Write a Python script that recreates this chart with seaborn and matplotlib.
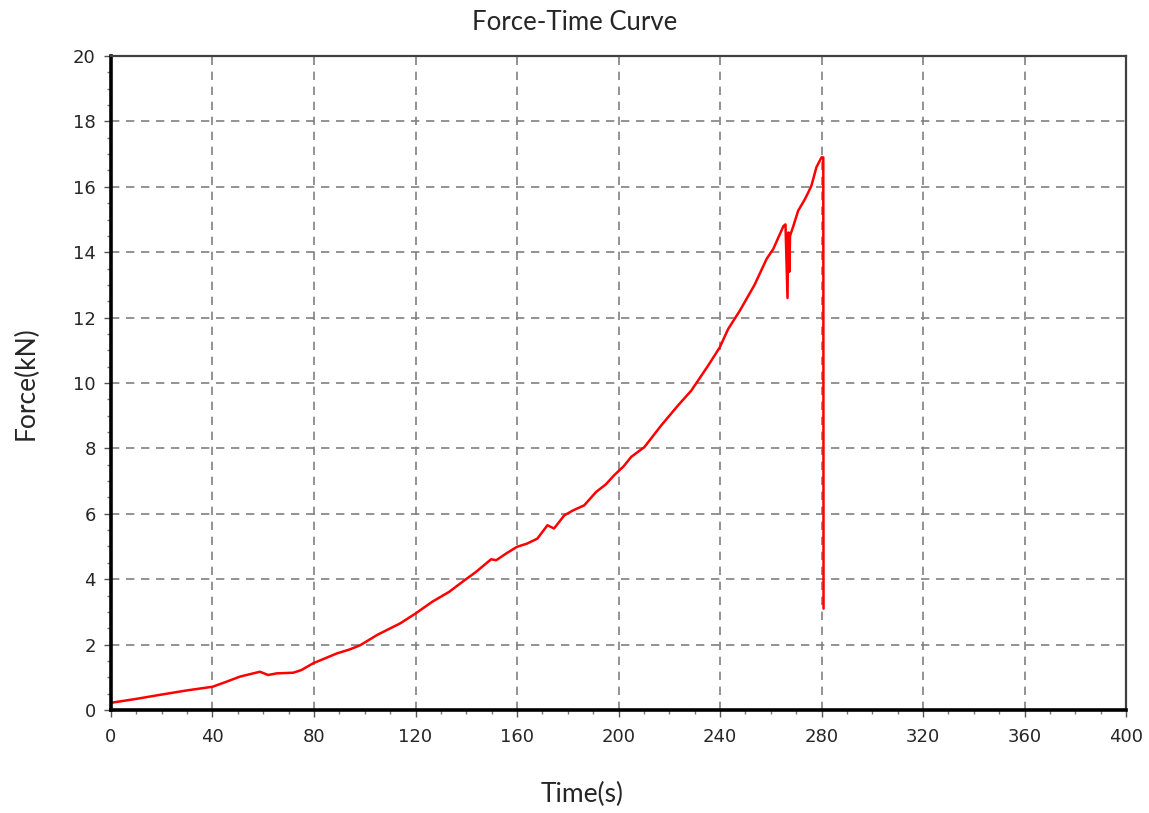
import numpy as np
import pandas as pd
import matplotlib
matplotlib.use("Agg")
import matplotlib.pyplot as plt
import seaborn as sns
from matplotlib.ticker import MultipleLocator

# Force-time readings (s, kN)
time_s = [0, 10, 19, 30, 40, 45, 50.8, 55, 58.7, 61.9, 65.3, 71.8, 75, 79.7,
          85, 89, 94, 98.2, 105, 114, 120, 126.6, 133.2, 138.5, 143.8, 149.8,
          151.8, 156, 160, 164, 168, 172, 174.6, 178.6, 182, 186.5, 191.2, 195,
          198.3, 202, 205, 210.2, 216.8, 223.4, 228.7, 235.3, 239.9, 243.2,
          247.8, 253.6, 258.4, 261, 265, 265.8, 266.6, 266.9, 267.1, 267.3,
          267.6, 268.9, 270.8, 273.3, 274.8, 276, 278, 280, 280.7, 280.8]
force_kn = [0.22, 0.34, 0.46, 0.6, 0.71, 0.85, 1.02, 1.1, 1.17, 1.07, 1.12, 1.14,
            1.22, 1.43, 1.6, 1.73, 1.85, 1.98, 2.3, 2.65, 2.95, 3.31, 3.61, 3.92,
            4.22, 4.61, 4.58, 4.8, 4.99, 5.09, 5.24, 5.65, 5.55, 5.95, 6.1, 6.26,
            6.67, 6.9, 7.18, 7.45, 7.74, 8.04, 8.7, 9.31, 9.77, 10.53, 11.09,
            11.65, 12.21, 13.0, 13.8, 14.1, 14.8, 14.85, 12.6, 14.6, 14.6, 13.4,
            14.5, 14.8, 15.27, 15.6, 15.83, 16.03, 16.6, 16.9, 16.9, 3.1]

x_ticks = list(range(0, 401, 40))
y_ticks = list(range(0, 21, 2))

df = pd.DataFrame({"Time(s)": time_s, "Force(kN)": force_kn})

sns.set_style("white")
plt.rcParams['font.family'] = ['Lato', 'DejaVu Sans']

fig = plt.figure(figsize=(11.49, 8.13), dpi=100)
ax = fig.add_axes([0.0966, 0.1267, 0.8834, 0.8044])

sns.lineplot(data=df, x="Time(s)", y="Force(kN)", sort=False, estimator=None,
             color="red", linewidth=1.8, ax=ax)

ax.set_xlim(0, 400)
ax.set_ylim(0, 20)
ax.set_xticks(x_ticks)
ax.set_yticks(y_ticks)
ax.xaxis.set_minor_locator(MultipleLocator(10))
ax.yaxis.set_minor_locator(MultipleLocator(0.5))

tick_font = {'family': 'DejaVu Sans', 'size': 13}
ax.set_xticklabels([str(v) for v in x_ticks], fontdict=tick_font)
ax.set_yticklabels([str(v) for v in y_ticks], fontdict=tick_font)
ax.tick_params(which='major', direction='out', length=5, width=1, color='#555555',
               bottom=True, left=True)
ax.tick_params(axis='x', which='major', pad=8)
ax.tick_params(axis='y', which='major', pad=6)
ax.tick_params(which='minor', direction='out', length=3, width=1, color='#777777',
               bottom=True, left=True)

ax.grid(True, which='major', color='#808080', linestyle=(0, (5, 4)), linewidth=1.2)

for side in ['left', 'bottom']:
    ax.spines[side].set_color('black')
    ax.spines[side].set_linewidth(2.6)
for side in ['top', 'right']:
    ax.spines[side].set_color('#404040')
    ax.spines[side].set_linewidth(1.6)

ax.set_xlabel("Time(s)", fontsize=19)
ax.xaxis.set_label_coords(0.464, -0.110)
ax.set_ylabel("Force(kN)", fontsize=19)
ax.yaxis.set_label_coords(-0.071, 0.5)
fig.suptitle("Force-Time Curve", fontsize=18.5, x=0.5, y=0.988)

plt.savefig("out.png", dpi=100)
